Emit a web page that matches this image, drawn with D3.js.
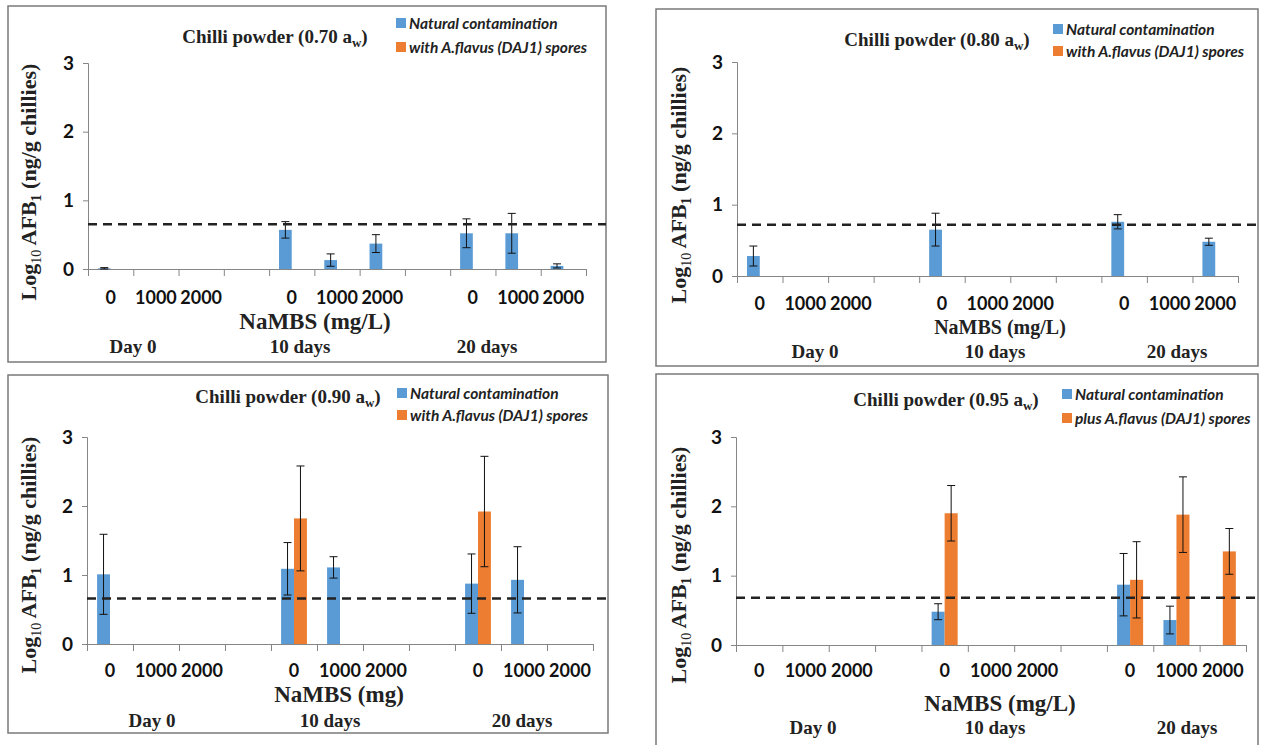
<!DOCTYPE html>
<html>
<head>
<meta charset="utf-8">
<script src="https://cdn.jsdelivr.net/npm/d3@7"></script>
<style>
  body { margin: 0; background: #fff; }
  svg { display: block; }
  .serif { font-family: "Liberation Serif", "DejaVu Serif", serif; font-weight: bold; }
  .sans { font-family: Lato, "Liberation Sans", sans-serif; font-weight: bold; }
</style>
</head>
<body>
<svg id="chart" width="1261" height="745"></svg>
<script>
// ---- data ----
var doses = ["0", "1000", "2000"];
var periods = ["Day 0", "10 days", "20 days"];
var seriesNames = ["natural", "spiked"];
var yTicks = [0, 1, 2, 3];

// one value per period x dose (Day0: 0,1000,2000, 10 days: ..., 20 days: ...), null = no bar
var natural70 = [0.01, null, null, 0.57, 0.13, 0.37, 0.52, 0.52, 0.045];
var natural70Err = [0.01, null, null, 0.12, 0.09, 0.13, 0.21, 0.29, 0.03];
var spiked70 = [null, null, null, null, null, null, null, null, null];
var spiked70Err = [null, null, null, null, null, null, null, null, null];

var natural80 = [0.28, null, null, 0.65, null, null, 0.76, null, 0.48];
var natural80Err = [0.14, null, null, 0.23, null, null, 0.1, null, 0.05];
var spiked80 = [null, null, null, null, null, null, null, null, null];
var spiked80Err = [null, null, null, null, null, null, null, null, null];

var natural90 = [1.01, null, null, 1.09, 1.11, null, 0.875, 0.93, null];
var natural90Err = [0.58, null, null, 0.38, 0.155, null, 0.43, 0.48, null];
var spiked90 = [null, null, null, 1.82, null, null, 1.92, null, null];
var spiked90Err = [null, null, null, 0.76, null, null, 0.8, null, null];

var natural95 = [null, null, null, 0.48, null, null, 0.87, 0.36, null];
var natural95Err = [null, null, null, 0.115, null, null, 0.45, 0.2, null];
var spiked95 = [null, null, null, 1.9, null, null, 0.94, 1.88, 1.35];
var spiked95Err = [null, null, null, 0.4, null, null, 0.55, 0.545, 0.33];

var limitLines = [0.65, 0.72, 0.66, 0.68];
var titles = ["0.70", "0.80", "0.90", "0.95"];
var xTitles = ["NaMBS (mg/L)", "NaMBS (mg/L)", "NaMBS (mg)", "NaMBS (mg/L)"];
var legendNames = [
  ["Natural contamination", "with A.flavus (DAJ1) spores"],
  ["Natural contamination", "with A.flavus (DAJ1) spores"],
  ["Natural contamination", "with A.flavus (DAJ1) spores"],
  ["Natural contamination", "plus A.flavus (DAJ1) spores"]
];

var colors = { natural: "#5b9bd5", spiked: "#ed7d31" };

// layout of each panel (page pixels)
var panels = [
  { box: [8, 6, 598, 356], x0: 88, x1: 586, yTop: 63, yZero: 269, titleX: 275, titleY: 43,
    legX: 396, legY: 23, legGap: 24, catY: 304, xtX: 315, xtY: 329, xtSize: 23, dayY: 353, dayX: [45, 212, 399], ytX: 36, ytY: 182,
    values: [natural70, spiked70], errs: [natural70Err, spiked70Err] },
  { box: [656, 9, 602, 357], x0: 737, x1: 1238, yTop: 62, yZero: 276, titleX: 937, titleY: 46,
    legX: 1053, legY: 29, legGap: 22, catY: 310, xtX: 1000, xtY: 334, xtSize: 20, dayY: 358, dayX: [78, 258, 440], ytX: 686, ytY: 185,
    values: [natural80, spiked80], errs: [natural80Err, spiked80Err] },
  { box: [8, 375, 600, 358], x0: 87, x1: 593, yTop: 437, yZero: 644, titleX: 288, titleY: 403,
    legX: 397, legY: 393, legGap: 22, catY: 677, xtX: 339, xtY: 702, xtSize: 23, dayY: 727, dayX: [65, 243, 435], ytX: 36, ytY: 555,
    values: [natural90, spiked90], errs: [natural90Err, spiked90Err] },
  { box: [656, 374, 602, 375], x0: 736, x1: 1246, yTop: 437, yZero: 645, titleX: 946, titleY: 406,
    legX: 1062, legY: 394, legGap: 24, catY: 677, xtX: 1000, xtY: 711, xtSize: 23, dayY: 734, dayX: [77, 259, 451], ytX: 686, ytY: 565,
    values: [natural95, spiked95], errs: [natural95Err, spiked95Err] }
];

var svg = d3.select("#chart");
svg.append("rect").attr("width", 1261).attr("height", 745).attr("fill", "#fff");

// 11 slots: 3 doses, a gap, 3 doses, a gap, 3 doses
var slotLabels = [];
periods.forEach(function(p, i) {
  doses.forEach(function(d) { slotLabels.push(d); });
  if (i < periods.length - 1) slotLabels.push("");
});
var slotIndex = function(k) { return Math.floor(k / 3) * 4 + (k % 3); };

panels.forEach(function(p, pi) {
  var g = svg.append("g");

  g.append("rect")
    .attr("x", p.box[0]).attr("y", p.box[1])
    .attr("width", p.box[2]).attr("height", p.box[3])
    .attr("fill", "none").attr("stroke", "#7a7a7a").attr("stroke-width", 1.5);

  var x = d3.scaleBand().domain(d3.range(slotLabels.length)).range([p.x0, p.x1]).padding(0);
  var xs = d3.scaleBand().domain(seriesNames).range([0, x.bandwidth()]).paddingInner(0).paddingOuter(0.78);
  var xt = d3.scaleLinear().domain([0, slotLabels.length]).range([p.x0, p.x1]);
  var y = d3.scaleLinear().domain([0, 3]).range([p.yZero, p.yTop]);

  // y axis
  var ya = g.append("g").attr("transform", "translate(" + p.x0 + ",0)")
    .call(d3.axisLeft(y).tickValues(yTicks).tickSize(5).tickPadding(9).tickFormat(d3.format("d")));
  ya.select(".domain").attr("stroke", "#868686");
  ya.selectAll(".tick line").attr("stroke", "#868686");
  ya.selectAll("text").attr("class", "sans").attr("font-size", 19).attr("fill", "#111");

  // x axis line with ticks at slot edges
  var xa = g.append("g").attr("transform", "translate(0," + p.yZero + ")")
    .call(d3.axisBottom(xt).tickValues(d3.range(slotLabels.length + 1)).tickSize(7).tickFormat(""));
  xa.select(".domain").attr("stroke", "#868686");
  xa.selectAll(".tick line").attr("stroke", "#868686");

  // category labels
  g.append("g").selectAll("text")
    .data(slotLabels)
    .join("text")
    .attr("class", "sans")
    .attr("x", function(d, i) { return x(i) + x.bandwidth() / 2; })
    .attr("y", p.catY)
    .attr("text-anchor", "middle")
    .attr("font-size", 18)
    .attr("fill", "#111")
    .text(function(d) { return d; });

  // bars
  seriesNames.forEach(function(s, si) {
    var rows = p.values[si].map(function(v, k) {
      return { slot: slotIndex(k), v: v, e: p.errs[si][k] };
    }).filter(function(d) { return d.v !== null; });

    g.append("g").selectAll("rect")
      .data(rows)
      .join("rect")
      .attr("x", function(d) { return x(d.slot) + xs(s); })
      .attr("y", function(d) { return y(d.v); })
      .attr("width", xs.bandwidth())
      .attr("height", function(d) { return y(0) - y(d.v); })
      .attr("fill", colors[s]);

    var eb = g.append("g").selectAll("g")
      .data(rows)
      .join("g")
      .attr("stroke", "#111").attr("stroke-width", 1);
    var cx = function(d) { return x(d.slot) + xs(s) + xs.bandwidth() / 2; };
    eb.append("line")
      .attr("x1", cx).attr("x2", cx)
      .attr("y1", function(d) { return y(d.v + d.e); })
      .attr("y2", function(d) { return y(Math.max(0, d.v - d.e)); });
    [1, -1].forEach(function(sign) {
      eb.append("line")
        .attr("x1", function(d) { return cx(d) - 4; })
        .attr("x2", function(d) { return cx(d) + 4; })
        .attr("y1", function(d) { return y(Math.max(0, d.v + sign * d.e)); })
        .attr("y2", function(d) { return y(Math.max(0, d.v + sign * d.e)); });
    });
  });

  // limit line
  g.append("line")
    .attr("x1", p.x0).attr("x2", p.box[0] + p.box[2])
    .attr("y1", y(limitLines[pi])).attr("y2", y(limitLines[pi]))
    .attr("stroke", "#222").attr("stroke-width", 2.5)
    .attr("stroke-dasharray", "9,6");

  // title
  var t = g.append("text").attr("class", "serif")
    .attr("x", p.titleX).attr("y", p.titleY)
    .attr("text-anchor", "middle").attr("font-size", 19).attr("fill", "#222");
  t.append("tspan").text("Chilli powder (" + titles[pi] + " a");
  t.append("tspan").attr("font-size", 13).attr("dy", 4).text("w");
  t.append("tspan").attr("dy", -4).text(")");

  // legend
  seriesNames.forEach(function(s, si) {
    var ly = p.legY + si * p.legGap;
    g.append("rect").attr("x", p.legX).attr("y", ly - 5).attr("width", 10).attr("height", 10)
      .attr("fill", colors[s]);
    g.append("text").attr("class", "sans")
      .attr("x", p.legX + 13).attr("y", ly + 5.5)
      .attr("font-size", 15.5).attr("font-style", "italic").attr("fill", "#222")
      .text(legendNames[pi][si]);
  });

  // y title
  var yt = g.append("text").attr("class", "serif")
    .attr("transform", "translate(" + p.ytX + "," + p.ytY + ") rotate(-90)")
    .attr("text-anchor", "middle").attr("font-size", 22).attr("fill", "#222");
  yt.append("tspan").text("Log");
  yt.append("tspan").attr("font-size", 14).attr("font-weight", "normal").attr("dy", 5).text("10");
  yt.append("tspan").attr("dy", -5).text(" AFB");
  yt.append("tspan").attr("font-size", 14).attr("dy", 5).text("1");
  yt.append("tspan").attr("dy", -5).text(" (ng/g chillies)");

  // x title
  g.append("text").attr("class", "serif")
    .attr("x", p.xtX).attr("y", p.xtY)
    .attr("text-anchor", "middle").attr("font-size", p.xtSize).attr("fill", "#222")
    .text(xTitles[pi]);

  // period labels
  g.append("g").selectAll("text")
    .data(periods)
    .join("text")
    .attr("class", "serif")
    .attr("x", function(d, i) { return p.x0 + p.dayX[i]; })
    .attr("y", p.dayY)
    .attr("text-anchor", "middle").attr("font-size", 19).attr("fill", "#222")
    .text(function(d) { return d; });
});
</script>
</body>
</html>
